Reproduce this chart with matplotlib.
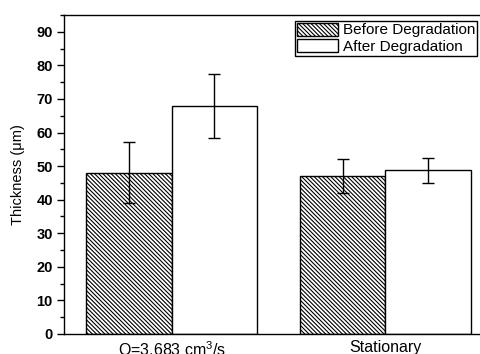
import numpy as np
import matplotlib
matplotlib.use('Agg')
import matplotlib.pyplot as plt
from matplotlib.ticker import MultipleLocator

categories = ['Q=3.683 cm$^3$/s', 'Stationary']
before = [48.0, 47.0]
before_err = [9.1, 5.0]
after = [67.9, 48.7]
after_err = [9.4, 3.8]
series_labels = ['Before Degradation', 'After Degradation']

plt.rcParams['font.family'] = ['Liberation Sans', 'DejaVu Sans']
plt.rcParams['mathtext.fontset'] = 'custom'
plt.rcParams['mathtext.rm'] = 'Liberation Sans'
plt.rcParams['hatch.linewidth'] = 0.8

fig = plt.figure(figsize=(4.8, 3.54), dpi=100)
ax = fig.add_axes([0.1333, 0.0565, 0.894, 0.9011])

x = np.arange(len(categories))
w = 0.4
err_kw = dict(ecolor='black', elinewidth=1.0, capsize=4, capthick=1.0)
ax.bar(x - w / 2, before, w, yerr=before_err, color='white', edgecolor='black',
       linewidth=1.0, hatch='\\' * 8, label=series_labels[0], error_kw=err_kw)
ax.bar(x + w / 2, after, w, yerr=after_err, color='white', edgecolor='black',
       linewidth=1.0, label=series_labels[1], error_kw=err_kw)

ax.set_xlim(-0.504, 1.504)
ax.set_ylim(0, 95)
ax.set_xticks(x)
ax.set_xticklabels(categories, fontsize=11.5)
ax.tick_params(axis='x', length=0, pad=4)
ax.yaxis.set_major_locator(MultipleLocator(10))
ax.yaxis.set_minor_locator(MultipleLocator(5))
ax.tick_params(axis='y', which='major', length=5, width=1, direction='out', labelsize=10.5, pad=3)
ax.tick_params(axis='y', which='minor', length=3, width=1, direction='out')
for lbl in ax.get_yticklabels():
    lbl.set_fontweight('bold')
ax.set_ylabel('Thickness (\u03bcm)', fontsize=10.5, labelpad=8)
for s in ['left', 'bottom', 'top']:
    ax.spines[s].set_linewidth(1.0)
ax.spines['right'].set_visible(False)

ax.legend(loc='upper left', bbox_to_anchor=(295 / 480, 1 - 21 / 354),
          bbox_transform=fig.transFigure, fontsize=11, frameon=True,
          fancybox=False, edgecolor='black', framealpha=1,
          borderpad=0.12, handlelength=2.7, handleheight=0.9,
          handletextpad=0.3, labelspacing=0.12, borderaxespad=0)

fig.savefig('out.png', dpi=100)
